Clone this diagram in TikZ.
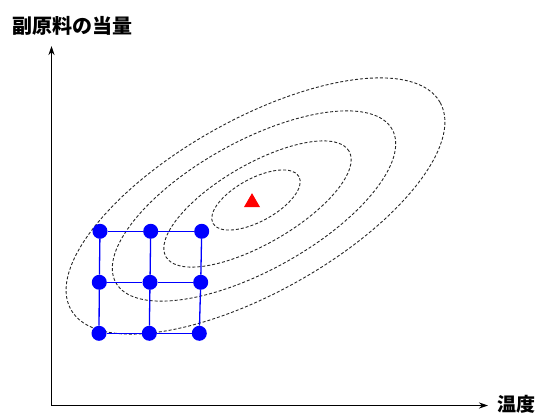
\documentclass[tikz,border=0pt]{standalone}
\usepackage{fontspec}
\newfontfamily\jpfont{Noto Sans CJK JP}
\usetikzlibrary{arrows.meta,shapes.geometric}
\tikzset{
  dot/.style={circle,fill=blue,draw=none,minimum size=15pt,inner sep=0pt},
  gridline/.style={blue,line width=1.3pt},
  contour/.style={black!85,line width=0.9pt,dash pattern=on 3pt off 2pt},
  axis/.style={line width=1.6pt,-{Stealth[length=9pt,width=6pt]}},
  lab/.style={font=\jpfont\bfseries\fontsize{20}{22}\selectfont,inner sep=0pt},
  labx/.style={font=\jpfont\bfseries\fontsize{19}{21}\selectfont,inner sep=0pt}
}
\begin{document}
\begin{tikzpicture}[x=1pt,y=-1pt]
\useasboundingbox (0,0) rectangle (537,412);
% contours
\coordinate (c1) at (256,200);
\coordinate (c2) at (257.5,204);
\coordinate (c3) at (254,206);
\coordinate (c4) at (255.5,206);
\draw[contour,rotate around={28.5:(c1)}] (c1) ellipse [x radius=49pt,y radius=21.5pt];
\draw[contour,rotate around={30:(c2)}] (c2) ellipse [x radius=105.7pt,y radius=39.8pt];
\draw[contour,rotate around={29:(c3)}] (c3) ellipse [x radius=158pt,y radius=64.5pt];
\draw[contour,rotate around={29.3:(c4)}] (c4) ellipse [x radius=211.7pt,y radius=86.4pt];
% axes
\coordinate (O) at (51.5,405.5);
\coordinate (ytip) at (51.5,46);
\coordinate (xtip) at (488,405.5);
\draw[axis] (O) -- (ytip);
\draw[axis] (O) -- (xtip);
\node[lab] (ylab) at (72.5,26) {副原料の当量};
\node[labx] (xlab) at (516.5,404) {温度};
% optimum
\node[regular polygon,regular polygon sides=3,fill=red,minimum size=18.5pt,inner sep=0pt] (opt) at (252,202.4) {};
% grid
\node[dot] (a1) at (100,231.3) {};
\node[dot] (a2) at (150.7,231.3) {};
\node[dot] (a3) at (201.7,231.3) {};
\node[dot] (b1) at (99.3,282.3) {};
\node[dot] (b2) at (150,282.3) {};
\node[dot] (b3) at (200.7,282.3) {};
\node[dot] (d1) at (99,333.3) {};
\node[dot] (d2) at (149.3,333.3) {};
\node[dot] (d3) at (199.3,333.3) {};
\draw[gridline] (a1) -- (a2) -- (a3);
\draw[gridline] (b1) -- (b2) -- (b3);
\draw[gridline] (d1) -- (d2) -- (d3);
\draw[gridline] (a1) -- (b1) -- (d1);
\draw[gridline] (a2) -- (b2) -- (d2);
\draw[gridline] (a3) -- (b3) -- (d3);
\end{tikzpicture}
\end{document}
